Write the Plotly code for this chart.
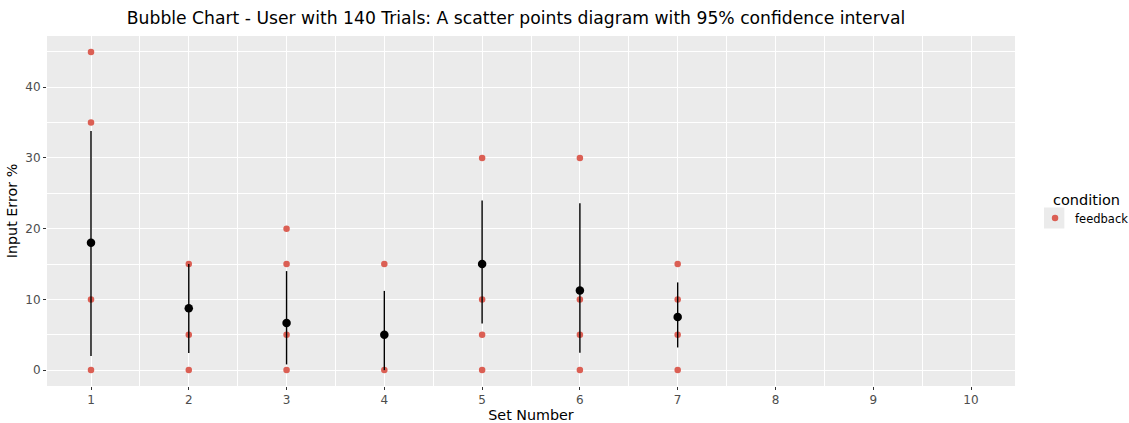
import plotly.graph_objects as go

# Raw observations (feedback condition)
obs_set = [1, 1, 1, 1,
           2, 2, 2,
           3, 3, 3, 3,
           4, 4,
           5, 5, 5, 5,
           6, 6, 6, 6,
           7, 7, 7, 7]
obs_err = [0, 10, 35, 45,
           0, 5, 15,
           0, 5, 15, 20,
           0, 15,
           0, 5, 10, 30,
           0, 5, 10, 30,
           0, 5, 10, 15]

# Means and 95% CI per set
sets = [1, 2, 3, 4, 5, 6, 7]
means = [18.0, 8.75, 6.65, 5.0, 15.0, 11.25, 7.5]
ci_low = [2.0, 2.4, 0.8, 0.0, 6.6, 2.45, 3.2]
ci_high = [33.8, 15.0, 14.0, 11.2, 24.0, 23.6, 12.4]

x_ticks = [1, 2, 3, 4, 5, 6, 7, 8, 9, 10]
y_ticks = [0, 10, 20, 30, 40]

RED = "#db5f54"
FONT = "DejaVu Sans"

fig = go.Figure()

fig.add_trace(go.Scatter(
    x=obs_set, y=obs_err, mode="markers", name="feedback",
    marker=dict(color=RED, size=6.5, line=dict(width=0)),
    showlegend=True,
))

fig.add_trace(go.Scatter(
    x=sets, y=means, mode="markers", name="mean",
    marker=dict(color="black", size=8.5, line=dict(width=0)),
    error_y=dict(type="data", symmetric=False,
                 array=[h - m for h, m in zip(ci_high, means)],
                 arrayminus=[m - l for m, l in zip(means, ci_low)],
                 color="black", thickness=1.4, width=0),
    showlegend=False,
))

# legend key background (ggplot style grey key box)
fig.add_shape(type="rect", xref="paper", yref="paper",
              x0=1.030, x1=1.051, y0=0.450, y1=0.510,
              fillcolor="#ebebeb", line=dict(width=0), layer="below")

# legend title
fig.add_annotation(text="condition", xref="paper", yref="paper",
                   x=1.037, y=0.531, xanchor="left", yanchor="middle",
                   showarrow=False, font=dict(size=14.5, color="black", family=FONT))

fig.update_layout(
    width=1129, height=423,
    margin=dict(l=47, r=114, t=36, b=37, autoexpand=False),
    paper_bgcolor="white",
    plot_bgcolor="#ebebeb",
    font=dict(family=FONT, color="#4d4d4d", size=12),
    title=dict(
        text="Bubble Chart - User with 140 Trials: A scatter points diagram with 95% confidence interval",
        x=516 / 1129, xanchor="center", y=1 - 18 / 423, yanchor="middle",
        font=dict(family=FONT, size=17.2, color="black"),
    ),
    xaxis=dict(
        range=[0.55, 10.45], tickvals=x_ticks, ticktext=[str(v) for v in x_ticks],
        showgrid=True, gridcolor="white", gridwidth=1.4,
        zeroline=False, ticks="outside", ticklen=3, tickcolor="#333333", tickwidth=1,
        tickfont=dict(size=12, color="#4d4d4d"),
        minor=dict(tick0=0.5, dtick=1, showgrid=True, gridcolor="white", gridwidth=0.6, ticks=""),
        title=dict(text="Set Number", font=dict(size=14.3, color="black"), standoff=7),
        showline=False, automargin=False,
    ),
    yaxis=dict(
        range=[-2.25, 47.25], tickvals=y_ticks, ticktext=[str(v) for v in y_ticks],
        showgrid=True, gridcolor="white", gridwidth=1.4,
        zeroline=False, ticks="outside", ticklen=3, tickcolor="#333333", tickwidth=1,
        tickfont=dict(size=12, color="#4d4d4d"),
        minor=dict(tick0=5, dtick=10, showgrid=True, gridcolor="white", gridwidth=0.6, ticks=""),
        title=dict(text="Input Error %", font=dict(size=14.3, color="black"), standoff=4),
        showline=False, automargin=False,
    ),
    legend=dict(
        x=1.0207, xanchor="left", y=0.48, yanchor="middle",
        font=dict(size=11.5, color="black"),
        bgcolor="rgba(0,0,0,0)", itemwidth=30,
    ),
)

fig.write_html("out.html")
